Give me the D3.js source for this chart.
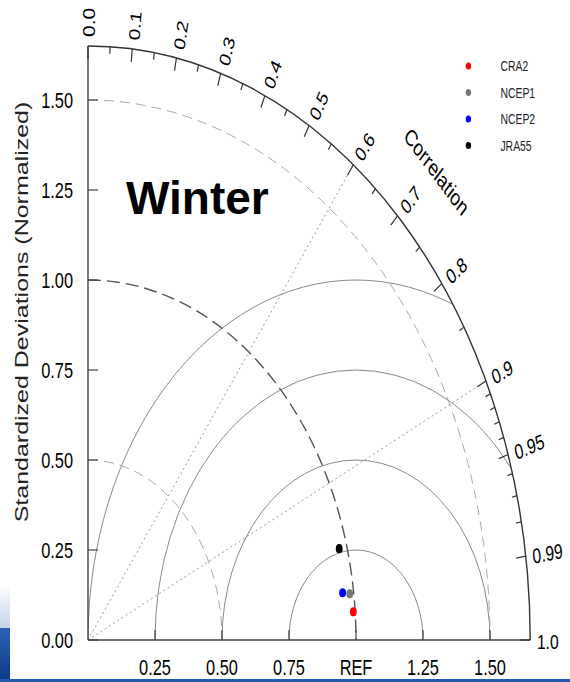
<!DOCTYPE html>
<html>
<head>
<meta charset="utf-8">
<script src="https://cdn.jsdelivr.net/npm/d3@7"></script>
<style>
  body { margin: 0; background: #fff; }
  svg { display: block; font-family: "Liberation Sans", Arial, sans-serif; }
  .ns { vector-effect: non-scaling-stroke; }
</style>
</head>
<body>
<div id="chart"></div>
<script>
// data
const models = ["CRA2", "NCEP1", "NCEP2", "JRA55"];
const stdDev = [0.993, 0.985, 0.959, 0.971];
const correlation = [0.9969, 0.9915, 0.9906, 0.9653];
const modelColors = ["#ff0000", "#777777", "#0000ff", "#000000"];

const stdTicks = [0, 0.25, 0.5, 0.75, 1.0, 1.25, 1.5];
const xTickLabels = ["", "0.25", "0.50", "0.75", "REF", "1.25", "1.50"];
const yTickLabels = ["0.00", "0.25", "0.50", "0.75", "1.00", "1.25", "1.50"];
const corrMajor = [0, 0.1, 0.2, 0.3, 0.4, 0.5, 0.6, 0.7, 0.8, 0.9, 0.95, 0.99, 1.0];
const corrLabels = ["0.0", "0.1", "0.2", "0.3", "0.4", "0.5", "0.6", "0.7", "0.8", "0.9", "0.95", "0.99", "1.0"];
const corrMinor = [0.05, 0.15, 0.25, 0.35, 0.45, 0.55, 0.65, 0.75, 0.85, 0.91, 0.92, 0.93, 0.94, 0.96, 0.97, 0.98];
const stdArcs = [0.5, 1.0, 1.5];
const rmsArcs = [0.25, 0.5, 0.75, 1.0];
const corrLines = [0.6, 0.9];
const maxStd = 1.65;

const width = 570, height = 682;
const sx = 268 / 360;   // the picture is squeezed horizontally

let svg = d3.select("#chart")
    .append("svg")
    .attr("width", width)
    .attr("height", height);

// slide background bits
let defs = svg.append("defs");
let g1 = defs.append("linearGradient").attr("id", "leftFade").attr("x1", 0).attr("y1", 0).attr("x2", 0).attr("y2", 1);
g1.append("stop").attr("offset", "0%").attr("stop-color", "#ffffff");
g1.append("stop").attr("offset", "100%").attr("stop-color", "#c3d3ea");
let g2 = defs.append("linearGradient").attr("id", "leftBlue").attr("x1", 0).attr("y1", 0).attr("x2", 0).attr("y2", 1);
g2.append("stop").attr("offset", "0%").attr("stop-color", "#2a62b3");
g2.append("stop").attr("offset", "100%").attr("stop-color", "#0b3a8a");

svg.append("rect").attr("x", 0).attr("y", 585).attr("width", 10).attr("height", 43).attr("fill", "url(#leftFade)");
svg.append("rect").attr("x", 0).attr("y", 628).attr("width", 10).attr("height", 54).attr("fill", "url(#leftBlue)");
svg.append("rect").attr("x", 0).attr("y", 679).attr("width", width).attr("height", 3).attr("fill", "#1f5cb0");

// plot group: 360px per unit, then squeezed in x
let r = d3.scaleLinear().domain([0, maxStd]).range([0, 360 * maxStd]);
let plot = svg.append("g")
    .attr("transform", `translate(88, 640) scale(${sx}, 1)`);

function pos(s, c) {
    let a = Math.acos(c);
    return [r(s) * Math.cos(a), -r(s) * Math.sin(a)];
}

// clip to quarter disc
let quarter = d3.path();
quarter.moveTo(0, 0);
quarter.lineTo(0, -r(maxStd));
quarter.arc(0, 0, r(maxStd), -Math.PI / 2, 0);
quarter.closePath();
defs.append("clipPath").attr("id", "quarter").append("path").attr("d", quarter.toString());

// centred RMS circles around REF
plot.append("g").attr("clip-path", "url(#quarter)")
    .selectAll("circle").data(rmsArcs).enter()
    .append("circle")
    .attr("class", "ns")
    .attr("cx", r(1)).attr("cy", 0)
    .attr("r", d => r(d))
    .attr("fill", "none")
    .attr("stroke", "#8a8a8a")
    .attr("stroke-width", 1);

// std dev arcs
plot.selectAll(".stdarc").data(stdArcs).enter()
    .append("path")
    .attr("class", "ns")
    .attr("d", function(d) {
        let p = d3.path();
        p.moveTo(0, -r(d));
        p.arc(0, 0, r(d), -Math.PI / 2, 0);
        return p.toString();
    })
    .attr("fill", "none")
    .attr("stroke", d => d === 1 ? "#555" : "#aaa")
    .attr("stroke-width", d => d === 1 ? 1.4 : 1)
    .attr("stroke-dasharray", d => d === 1 ? "13,6" : "10,6");

// correlation lines
plot.selectAll(".cline").data(corrLines).enter()
    .append("line")
    .attr("class", "ns")
    .attr("x1", 0).attr("y1", 0)
    .attr("x2", d => pos(maxStd, d)[0])
    .attr("y2", d => pos(maxStd, d)[1])
    .attr("stroke", "#999")
    .attr("stroke-width", 1)
    .attr("stroke-dasharray", "2,3");

// outer arc and axes
let outer = d3.path();
outer.moveTo(0, -r(maxStd));
outer.arc(0, 0, r(maxStd), -Math.PI / 2, 0);
plot.append("path").attr("class", "ns").attr("d", outer.toString())
    .attr("fill", "none").attr("stroke", "#333").attr("stroke-width", 1.4);
plot.append("line").attr("class", "ns")
    .attr("x1", 0).attr("y1", 0).attr("x2", 0).attr("y2", -r(maxStd))
    .attr("stroke", "#444").attr("stroke-width", 1.4);
plot.append("line").attr("class", "ns")
    .attr("x1", 0).attr("y1", 0).attr("x2", r(maxStd)).attr("y2", 0)
    .attr("stroke", "#444").attr("stroke-width", 1.4);

// y axis ticks and labels
plot.selectAll(".ytick").data(stdTicks).enter()
    .append("line").attr("class", "ns")
    .attr("x1", 0).attr("x2", 10 / sx)
    .attr("y1", d => -r(d)).attr("y2", d => -r(d))
    .attr("stroke", "#444").attr("stroke-width", 1.2);
plot.selectAll(".ylab").data(stdTicks).enter()
    .append("text")
    .attr("x", -15 / sx)
    .attr("y", d => -r(d))
    .attr("dy", "0.36em")
    .attr("text-anchor", "end")
    .style("font-size", "22px")
    .text((d, i) => yTickLabels[i]);

// x axis ticks and labels
plot.selectAll(".xtick").data(stdTicks.slice(1)).enter()
    .append("line").attr("class", "ns")
    .attr("x1", d => r(d)).attr("x2", d => r(d))
    .attr("y1", 0).attr("y2", -10)
    .attr("stroke", "#444").attr("stroke-width", 1.2);
plot.selectAll(".xlab").data(stdTicks).enter()
    .append("text")
    .attr("x", d => r(d))
    .attr("y", 35)
    .attr("text-anchor", "middle")
    .style("font-size", "22px")
    .text((d, i) => xTickLabels[i]);

// correlation ticks
function tickLine(c, len) {
    let a = Math.acos(c);
    let R = r(maxStd);
    return [R * Math.cos(a), -R * Math.sin(a), (R - len) * Math.cos(a), -(R - len) * Math.sin(a)];
}
plot.selectAll(".cmaj").data(corrMajor).enter()
    .append("line").attr("class", "ns")
    .attr("x1", d => tickLine(d, 13)[0]).attr("y1", d => tickLine(d, 13)[1])
    .attr("x2", d => tickLine(d, 13)[2]).attr("y2", d => tickLine(d, 13)[3])
    .attr("stroke", "#333").attr("stroke-width", 1.2);
plot.selectAll(".cmin").data(corrMinor).enter()
    .append("line").attr("class", "ns")
    .attr("x1", d => tickLine(d, 7)[0]).attr("y1", d => tickLine(d, 7)[1])
    .attr("x2", d => tickLine(d, 7)[2]).attr("y2", d => tickLine(d, 7)[3])
    .attr("stroke", "#333").attr("stroke-width", 1.2);

plot.selectAll(".clab").data(corrMajor).enter()
    .append("text")
    .attr("transform", function(d) {
        let p = pos(maxStd + 0.025, d);
        let deg = Math.acos(d) * 180 / Math.PI;
        return `translate(${p[0]}, ${p[1]}) rotate(${-deg})`;
    })
    .attr("dy", "0.42em")
    .attr("text-anchor", "start")
    .style("font-size", "21px")
    .text((d, i) => corrLabels[i]);

// Correlation title
plot.append("text")
    .attr("transform", function() {
        let a = Math.PI / 4;
        let p = [r(1.84) * Math.cos(a), -r(1.84) * Math.sin(a)];
        return `translate(${p[0]}, ${p[1]}) rotate(45)`;
    })
    .attr("text-anchor", "middle")
    .attr("dy", "0.35em")
    .style("font-size", "23px")
    .text("Correlation");

// y axis title
plot.append("text")
    .attr("transform", `translate(${-81}, ${-328}) rotate(-90)`)
    .attr("text-anchor", "middle")
    .style("font-size", "25px")
    .style("fill", "#222")
    .text("Standardized Deviations (Normalized)");

// points
plot.selectAll(".pt").data(models).enter()
    .append("circle")
    .attr("cx", (d, i) => pos(stdDev[i], correlation[i])[0])
    .attr("cy", (d, i) => pos(stdDev[i], correlation[i])[1])
    .attr("r", 4.6)
    .style("fill", (d, i) => modelColors[i]);

// legend
let legend = plot.append("g").attr("transform", "translate(511, -574)");
legend.selectAll("circle").data(models).enter()
    .append("circle")
    .attr("cx", 0)
    .attr("cy", (d, i) => i * 26.5)
    .attr("r", 3.6)
    .style("fill", (d, i) => modelColors[i]);
legend.selectAll("text").data(models).enter()
    .append("text")
    .attr("x", 43)
    .attr("y", (d, i) => i * 26.5)
    .attr("dy", "0.36em")
    .style("font-size", "14px")
    .style("fill", "#222")
    .text(d => d);

// panel title
svg.append("text")
    .attr("x", 126)
    .attr("y", 214)
    .style("font-size", "46px")
    .style("font-weight", "bold")
    .text("Winter");
</script>
</body>
</html>
